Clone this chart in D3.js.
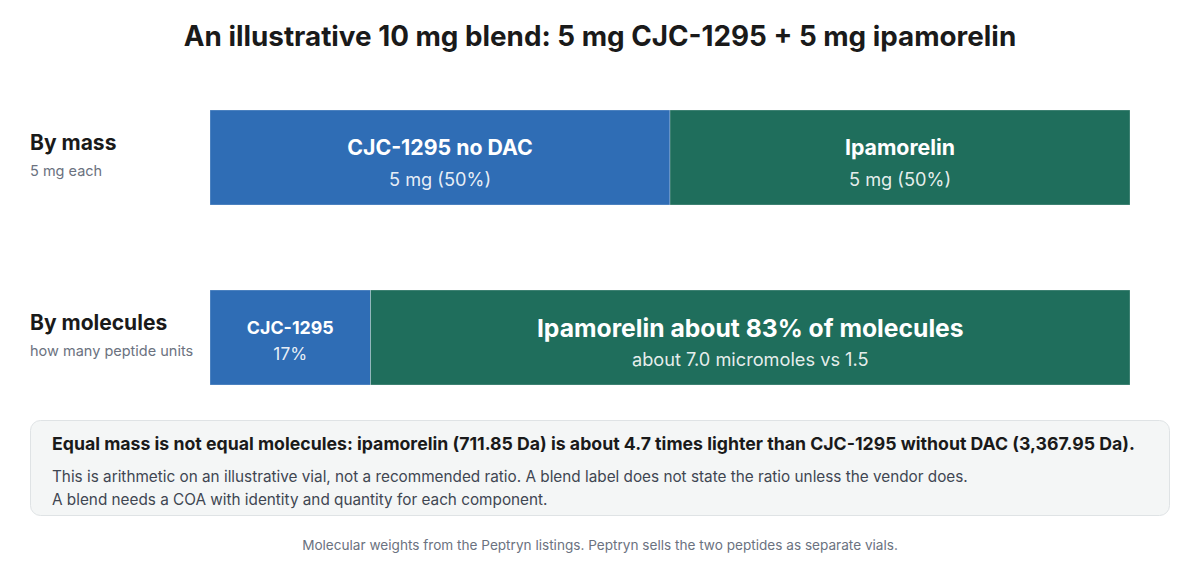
<!DOCTYPE html>
<html>
<head>
<meta charset="utf-8">
<script src="https://cdn.jsdelivr.net/npm/d3@7"></script>
<style>
	body { margin: 0; background: #fff; font-family: Inter, "Noto Sans", sans-serif; }
	svg text { font-family: Inter, "Noto Sans", sans-serif; }
</style>
</head>
<body>
<div id="chart-area"></div>
<script>
// data
const peptides = ['CJC-1295', 'Ipamorelin'];
const massMg = [5, 5];
const weightsDa = [3367.95, 711.85];
const rows = ['By mass', 'By molecules'];
const rowNotes = ['5 mg each', 'how many peptide units'];
const massLabels = [['CJC-1295 no DAC', '5 mg (50%)'], ['Ipamorelin', '5 mg (50%)']];
const molLabels = [['CJC-1295', '17%'], ['Ipamorelin about 83% of molecules', 'about 7.0 micromoles vs 1.5']];
const colors = ['#2f6db5', '#1f6e5c'];

const width = 1200, height = 570;

// micromoles from mass / weight
const micromoles = massMg.map((m, i) => m / weightsDa[i] * 1000);

function shares(vals) {
	const total = d3.sum(vals);
	let acc = 0;
	return vals.map(v => { const s = { x0: acc / total, x1: (acc + v) / total }; acc += v; return s; });
}
const rowData = [shares(massMg), shares(micromoles)];

const svg = d3.select('#chart-area').append('svg')
	.attr('width', width)
	.attr('height', height);

svg.append('text')
	.attr('x', width / 2)
	.attr('y', 46)
	.attr('text-anchor', 'middle')
	.attr('font-size', '27.8px')
	.attr('font-weight', 700)
	.attr('fill', '#1a1a1a')
	.text('An illustrative 10 mg blend: 5 mg CJC-1295 + 5 mg ipamorelin');

const x = d3.scaleLinear().domain([0, 1]).range([210, 1130]);
const y = d3.scalePoint().domain(rows).range([110, 290]);
const barH = 95;

rows.forEach((r, ri) => {
	const g = svg.append('g');
	const y0 = y(r);

	g.append('text')
		.attr('x', 30).attr('y', y0 + 40)
		.attr('font-size', '21px').attr('font-weight', 700).attr('fill', '#1a1a1a')
		.text(r);
	g.append('text')
		.attr('x', 30).attr('y', y0 + 66)
		.attr('font-size', '14.5px').attr('fill', '#6b7280')
		.text(rowNotes[ri]);

	const labels = ri === 0 ? massLabels : molLabels;

	g.selectAll('rect')
		.data(rowData[ri])
		.enter().append('rect')
		.attr('x', d => x(d.x0))
		.attr('y', y0)
		.attr('width', d => x(d.x1) - x(d.x0))
		.attr('height', barH)
		.attr('fill', (d, i) => colors[i])
		.attr('stroke', '#fff')
		.attr('stroke-opacity', 0.35)
		.attr('stroke-width', 0.8);

	rowData[ri].forEach((d, i) => {
		const cx = (x(d.x0) + x(d.x1)) / 2;
		const narrow = (x(d.x1) - x(d.x0)) < 200;
		const big = ri === 1 && i === 1;
		g.append('text')
			.attr('x', cx)
			.attr('y', y0 + (big ? 47 : (narrow ? 44 : 45)))
			.attr('text-anchor', 'middle')
			.attr('font-size', big ? '24.7px' : (narrow ? '17.8px' : '21.3px'))
			.attr('font-weight', 700)
			.attr('fill', '#fff')
			.text(labels[i][0]);
		g.append('text')
			.attr('x', cx)
			.attr('y', y0 + (narrow ? 70 : 76))
			.attr('text-anchor', 'middle')
			.attr('font-size', narrow ? '17.3px' : '18.2px')
			.attr('fill', '#fff')
			.attr('fill-opacity', 0.9)
			.text(labels[i][1]);
	});
});

// note box
const ratio = weightsDa[0] / weightsDa[1];
const note = svg.append('g');
note.append('rect')
	.attr('x', 30.5).attr('y', 420.5)
	.attr('width', 1139).attr('height', 95)
	.attr('rx', 10)
	.attr('fill', '#f4f6f6')
	.attr('stroke', '#dfe3e5');
note.append('text')
	.attr('x', 52).attr('y', 450)
	.attr('font-size', '17.7px').attr('font-weight', 700).attr('fill', '#1a1a1a')
	.text(`Equal mass is not equal molecules: ipamorelin (${weightsDa[1]} Da) is about ${ratio.toFixed(1)} times lighter than CJC-1295 without DAC (${d3.format(',.2f')(weightsDa[0])} Da).`);
note.append('text')
	.attr('x', 52).attr('y', 482)
	.attr('font-size', '15.3px').attr('fill', '#3f4652')
	.text('This is arithmetic on an illustrative vial, not a recommended ratio. A blend label does not state the ratio unless the vendor does.');
note.append('text')
	.attr('x', 52).attr('y', 505)
	.attr('font-size', '15.3px').attr('fill', '#3f4652')
	.text('A blend needs a COA with identity and quantity for each component.');

svg.append('text')
	.attr('x', width / 2).attr('y', 550)
	.attr('text-anchor', 'middle')
	.attr('font-size', '13.6px').attr('fill', '#6b7280')
	.text('Molecular weights from the Peptryn listings. Peptryn sells the two peptides as separate vials.');
</script>
</body>
</html>
